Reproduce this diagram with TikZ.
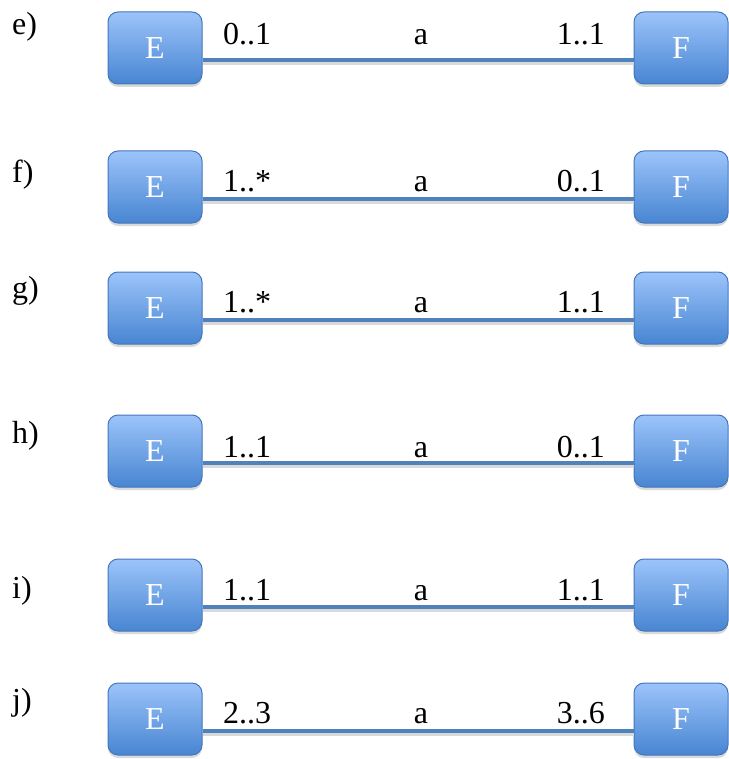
\documentclass[tikz,border=0pt]{standalone}
\usepackage{fontspec}
\setmainfont{Liberation Serif}
\usetikzlibrary{shadows}

\definecolor{boxtop}{RGB}{156,196,250}
\definecolor{boxbottom}{RGB}{72,133,210}
\definecolor{boxline}{RGB}{68,118,188}
\definecolor{assocline}{RGB}{79,129,189}

\begin{document}
\begin{tikzpicture}[x=1pt, y=-1pt,
    entity/.style={rectangle, rounded corners=10pt, draw=boxline, line width=1pt,
        top color=boxtop, bottom color=boxbottom, minimum width=94pt, minimum height=72pt,
        text=white, font=\fontsize{32}{34}\selectfont,
        drop shadow={opacity=0.3, shadow xshift=0pt, shadow yshift=-3pt}},
    mult/.style={font=\fontsize{32}{34}\selectfont, inner sep=0pt},
    assoc/.style={assocline, line width=4pt,
        preaction={draw=black!15, line width=4pt, transform canvas={yshift=-3pt}}},
]
    \useasboundingbox (0,0) rectangle (728,759);

    % one row per case: name/box top/text baseline/label baseline/left/right
    \foreach \case/\ytop/\ybase/\ylab/\lmul/\rmul in {
        e/12/45/35/0..1/1..1, f/151/192/183/1..*/0..1,
        g/272/312/298/1..*/1..1, h/415/457/443/1..1/0..1,
        i/559/600/598/1..1/1..1, j/683/723/710/2..3/3..6}
    {
        \node[entity] (E\case) at (155, \ytop+36) {E};
        \node[entity] (F\case) at (681, \ytop+36) {F};
        \draw[assoc] ([yshift=-12pt]E\case.east) -- ([yshift=-12pt]F\case.west);

        \node[mult, anchor=base west] (l\case) at (12, \ylab) {\case)};
        \node[mult, anchor=base west] (m\case) at (223, \ybase) {\lmul};
        \node[mult, anchor=base] (a\case) at (421, \ybase) {a};
        \node[mult, anchor=base east] (n\case) at (605, \ybase) {\rmul};
    }
\end{tikzpicture}
\end{document}
